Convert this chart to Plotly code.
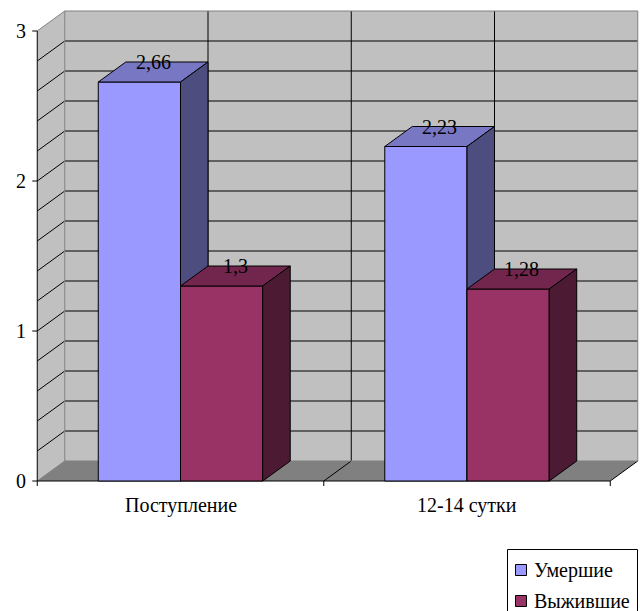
import plotly.graph_objects as go

# ---- data -------------------------------------------------------------
categories = ["Поступление", "12-14 сутки"]
series_names = ["Умершие", "Выжившие"]
died = [2.66, 2.23]
survived = [1.3, 1.28]
y_ticks = [0, 1, 2, 3]
minor_step = 0.2

# ---- geometry (pixels of the front plane) ------------------------------
W, H = 640, 611
X0_PX = 180.5      # centre of the first category
CAT_PX = 286.5     # width of one category
Y0_PX = 481        # value 0
UNIT_PX = 150      # pixels per value unit
DX = 27.5 / CAT_PX  # depth offset in category units
DY = 20 / UNIT_PX   # depth offset in value units
BAR_W = 0.287

x_range = [(0 - X0_PX) / CAT_PX, (W - X0_PX) / CAT_PX]
y_range = [(Y0_PX - H) / UNIT_PX, Y0_PX / UNIT_PX]

FONT = "Liberation Serif"
FS = 20
WALL = "#C0C0C0"
FLOOR = "#808080"
EDGE = "#808080"
front_cols = ["#9999FF", "#993366"]
top_cols = ["#7777C4", "#73264D"]
side_cols = ["#4D4D80", "#4D1A33"]
series_vals = [died, survived]

y_top = max(y_ticks)
L = -0.5
R = len(categories) - 0.5

fig = go.Figure()


def poly(xs, ys, fill, line_color=None, width=0):
    fig.add_trace(go.Scatter(
        x=xs + [xs[0]], y=ys + [ys[0]], mode="lines", fill="toself",
        fillcolor=fill, line=dict(color=line_color or fill, width=width),
        hoverinfo="skip", showlegend=False))


def segs(pairs, color, width=1):
    xs, ys = [], []
    for (xa, ya), (xb, yb) in pairs:
        xs += [xa, xb, None]
        ys += [ya, yb, None]
    fig.add_trace(go.Scatter(
        x=xs, y=ys, mode="lines", line=dict(color=color, width=width),
        hoverinfo="skip", showlegend=False))


n_minor = int(round(y_top / minor_step))
minor_vals = [k * minor_step for k in range(1, n_minor)]

# back wall
poly([L + DX, R + DX, R + DX, L + DX], [DY, DY, y_top + DY, y_top + DY], WALL)
segs([((L + DX, v + DY), (R + DX, v + DY)) for v in minor_vals], "#000000")
inner_v = [L + k * 0.5 for k in range(1, 2 * len(categories))]
segs([((xv + DX, DY), (xv + DX, y_top + DY)) for xv in inner_v], "#000000")

# left wall
poly([L, L + DX, L + DX, L], [0, DY, y_top + DY, y_top], WALL)
segs([((L, v), (L + DX, v + DY)) for v in minor_vals], "#000000")

# floor
poly([L, R, R + DX, L + DX], [0, 0, DY, DY], FLOOR)
segs([((L, 0), (L + DX, DY))], EDGE)
segs([((L + k, 0), (L + k + DX, DY)) for k in range(1, len(categories) + 1)],
     "#000000")

# wall borders
segs([((L, y_top), (L + DX, y_top + DY)),
      ((L + DX, y_top + DY), (R + DX, y_top + DY)),
      ((R + DX, y_top + DY), (R + DX, DY)),
      ((L + DX, DY), (L + DX, y_top + DY)),
      ((L + DX, DY), (R + DX, DY))], EDGE)

# axes lines and ticks
tick_dx = 5 / CAT_PX
tick_dy = 5 / UNIT_PX
segs([((L, 0), (L, y_top)), ((L, 0), (R, 0))]
     + [((L - tick_dx, t), (L, t)) for t in y_ticks]
     + [((L + k, 0), (L + k, -tick_dy)) for k in range(len(categories) + 1)],
     "#000000")

# bars
for i, cat in enumerate(categories):
    for j, vals in enumerate(series_vals):
        v = vals[i]
        x0 = i + (j - 1) * BAR_W
        x1 = x0 + BAR_W
        poly([x0, x1, x1, x0], [0, 0, v, v], front_cols[j], "#000000", 1)
        poly([x0, x1, x1 + DX, x0 + DX], [v, v, v + DY, v + DY],
             top_cols[j], "#000000", 1)
        poly([x1, x1 + DX, x1 + DX, x1], [0, DY, v + DY, v],
             side_cols[j], "#000000", 1)
        fig.add_annotation(
            x=(x0 + x1) / 2 + DX / 2, y=v + DY, text=f"{v:g}".replace(".", ","),
            showarrow=False, xanchor="center", yanchor="middle",
            font=dict(family=FONT, size=FS, color="#000000"))

# value-axis labels
for t in y_ticks:
    fig.add_annotation(x=L, y=t, text=str(t), showarrow=False,
                       xanchor="right", yanchor="middle", xshift=-9,
                       font=dict(family=FONT, size=FS, color="#000000"))

# category labels
for i, cat in enumerate(categories):
    fig.add_annotation(x=i, y=-24 / UNIT_PX, text=cat, showarrow=False,
                       xanchor="center", yanchor="middle",
                       font=dict(family=FONT, size=FS, color="#000000"))

# legend box
shapes = [dict(type="rect", xref="paper", yref="paper",
               x0=507.5 / W, x1=637.5 / W, y0=1 - 615 / H, y1=1 - 549.5 / H,
               line=dict(color="#000000", width=1), fillcolor="#FFFFFF",
               layer="above")]
for j, name in enumerate(series_names):
    cy = 570 + 31 * j
    shapes.append(dict(type="rect", xref="paper", yref="paper",
                       x0=515.5 / W, x1=526.5 / W,
                       y0=1 - (cy + 5.5) / H, y1=1 - (cy - 5.5) / H,
                       line=dict(color="#000000", width=1),
                       fillcolor=front_cols[j], layer="above"))
    fig.add_annotation(xref="paper", yref="paper", x=532 / W, y=1 - cy / H,
                       text=name, showarrow=False, xanchor="left",
                       yanchor="middle",
                       font=dict(family=FONT, size=FS, color="#000000"))

fig.update_layout(
    width=W, height=H, margin=dict(l=0, r=0, t=0, b=0),
    paper_bgcolor="#FFFFFF", plot_bgcolor="#FFFFFF",
    xaxis=dict(range=x_range, visible=False, fixedrange=True),
    yaxis=dict(range=y_range, visible=False, fixedrange=True),
    showlegend=False, shapes=shapes)

fig.write_html("out.html")
